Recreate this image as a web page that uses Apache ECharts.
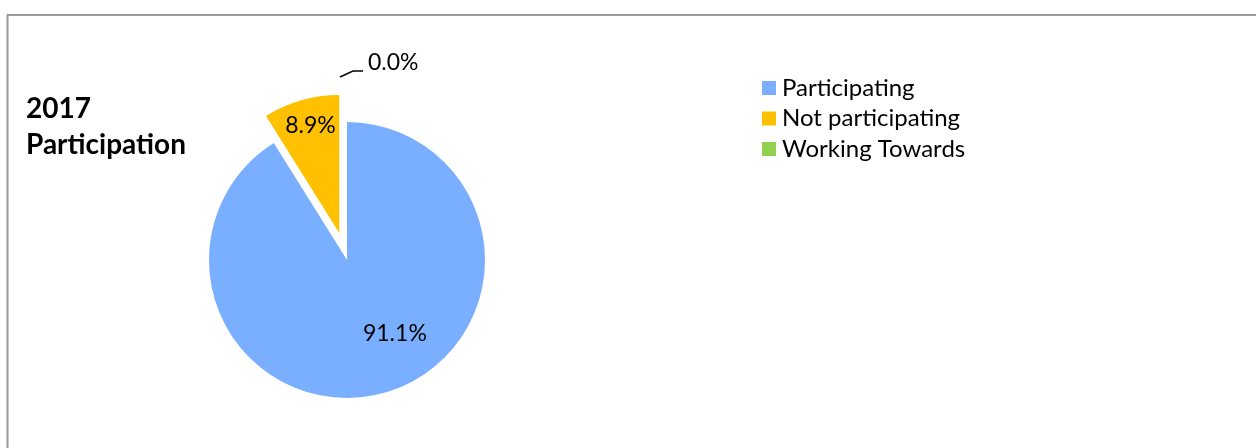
<!DOCTYPE html>
<html>
<head>
    <meta charset="UTF-8">
    <title>2017 Participation</title>
    <script type="text/javascript" src="https://cdn.jsdelivr.net/npm/echarts@6/dist/echarts.min.js"></script>
</head>
<style type="text/css">
html, body { margin: 0; padding: 0; background: #fff; }
#chart { width: 1256px; height: 448px; }
</style>
<body>
    <div id="chart"></div>
</body>
</html>

<script type="text/javascript">
    // data
    var categories = ['Participating', 'Not participating', 'Working Towards'];
    var shares = [91.1, 8.9, 0.0];
    var colors = ['#7AAFFF', '#FFC000', '#92D050'];
    // label nudges (Excel puts them off the centre line)
    var labelOffsets = [[28, 4], [-9, -38], [0, 0]];

    var font = 'Lato, "Noto Sans", sans-serif';

    var pieData = categories.map(function (name, i) {
        var item = {
            name: name,
            value: shares[i],
            itemStyle: { color: colors[i] }
        };
        if (i === 1) {
            item.selected = true;
            item.select = { label: { offset: labelOffsets[i] } };
        }
        if (shares[i] === 0) {
            item.label = { position: 'outside' };
            item.labelLine = { show: true, length: 51, length2: 16 };
        } else {
            item.label = { position: 'inside', offset: labelOffsets[i] };
        }
        return item;
    });

    var myChart = echarts.init(document.getElementById('chart'), null, { renderer: 'canvas' });

    var option = {
        animation: false,
        backgroundColor: '#fff',
        title: {
            text: '2017\nParticipation',
            left: 21,
            top: 86,
            textStyle: {
                fontFamily: font,
                fontWeight: 'bold',
                fontSize: 28,
                lineHeight: 36,
                color: '#000'
            }
        },
        legend: {
            orient: 'vertical',
            left: 757,
            top: 71,
            itemWidth: 14,
            itemHeight: 14,
            itemGap: 6.5,
            icon: 'rect',
            data: categories,
            textStyle: { fontFamily: font, fontSize: 24, lineHeight: 24, color: '#000', padding: [0, 0, 0, 1] },
            selectedMode: false
        },
        graphic: [{
            type: 'rect',
            shape: { x: 7.5, y: 15, width: 1300, height: 500 },
            style: { fill: null, stroke: '#9a9a9a', lineWidth: 2 },
            silent: true
        }],
        series: [{
            name: 'Participation',
            type: 'pie',
            center: [347, 260],
            radius: 138,
            startAngle: 90,
            clockwise: true,
            selectedMode: 'single',
            selectedOffset: 28,
            avoidLabelOverlap: false,
            stillShowZeroSum: true,
            emphasis: { disabled: true },
            label: {
                show: true,
                fontFamily: font,
                fontSize: 23,
                color: '#000',
                formatter: function (p) { return p.value.toFixed(1) + '%'; }
            },
            labelLine: { lineStyle: { color: '#000', width: 1.5 } },
            labelLayout: function (params) {
                if (params.dataIndex !== 2 || !params.labelLinePoints) return {};
                var pts = params.labelLinePoints;
                // Excel draws only a short tilted tick, not the full radial run
                return {
                    y: params.labelRect.y + params.labelRect.height / 2 - 8.5,
                    labelLinePoints: [
                        [pts[1][0] - 7, pts[1][1] + 6],
                        [pts[1][0] + 6, pts[1][1]],
                        pts[2]
                    ]
                };
            },
            data: pieData
        }]
    };

    myChart.setOption(option);
</script>
